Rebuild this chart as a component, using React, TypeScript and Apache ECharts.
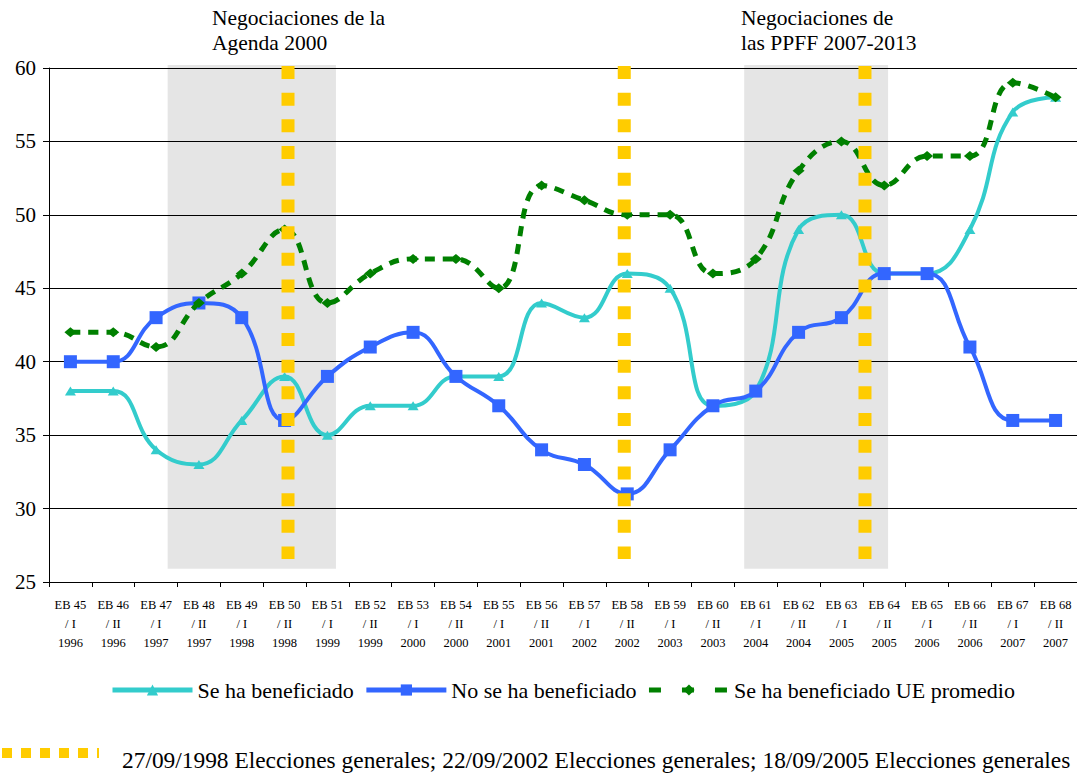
import React, { useEffect, useRef } from "react";
import * as echarts from "echarts";

const CATEGORIES = [
  "EB 45\n/ I\n1996", "EB 46\n/ II\n1996", "EB 47\n/ I\n1997", "EB 48\n/ II\n1997",
  "EB 49\n/ I\n1998", "EB 50\n/ II\n1998", "EB 51\n/ I\n1999", "EB 52\n/ II\n1999",
  "EB 53\n/ I\n2000", "EB 54\n/ II\n2000", "EB 55\n/ I\n2001", "EB 56\n/ II\n2001",
  "EB 57\n/ I\n2002", "EB 58\n/ II\n2002", "EB 59\n/ I\n2003", "EB 60\n/ II\n2003",
  "EB 61\n/ I\n2004", "EB 62\n/ II\n2004", "EB 63\n/ I\n2005", "EB 64\n/ II\n2005",
  "EB 65\n/ I\n2006", "EB 66\n/ II\n2006", "EB 67\n/ I\n2007", "EB 68\n/ II\n2007",
];

const SE_HA_BENEFICIADO = [38, 38, 34, 33, 36, 39, 35, 37, 37, 39, 39, 44, 43, 46, 45, 37, 38, 49, 50, 46, 46, 49, 57, 58];
const NO_SE_HA_BENEFICIADO = [40, 40, 43, 44, 43, 36, 39, 41, 42, 39, 37, 34, 33, 31, 34, 37, 38, 42, 43, 46, 46, 41, 36, 36];
const UE_PROMEDIO = [42, 42, 41, 44, 46, 49, 44, 46, 47, 47, 45, 52, 51, 50, 50, 46, 47, 53, 55, 52, 54, 54, 59, 58];

// Election dates, in category-axis units (0..24)
const ELECTIONS_X = [5.58, 13.43, 19.05];
const ELECTION_Y = [60.14, 26.57];
// Negotiation periods, in category-axis units
const NEGOTIATIONS = [
  [2.77, 6.7],
  [16.23, 19.59],
];
const NEGOTIATION_Y = [25.9, 60.2];
const NEGOTIATION_LABELS = ["Negociaciones de la\nAgenda 2000", "Negociaciones de\nlas PPFF 2007-2013"];

const Y_MIN = 25;
const Y_MAX = 60;
const Y_STEP = 5;

const SERIES_NAMES = ["Se ha beneficiado", "No se ha beneficiado", "Se ha beneficiado UE promedio"];
const ELECTIONS_TEXT = "27/09/1998 Elecciones generales; 22/09/2002 Elecciones generales; 18/09/2005 Elecciones generales";

const FONT = "Liberation Serif";

export default function App() {
  const ref = useRef<HTMLDivElement>(null);

  useEffect(() => {
    if (!ref.current) return;
    const chart = echarts.init(ref.current, undefined, { renderer: "svg" });

    const yellowSeries = ELECTIONS_X.map((x) => ({
      type: "line",
      xAxisIndex: 1,
      yAxisIndex: 0,
      data: [
        [x, ELECTION_Y[0]],
        [x, ELECTION_Y[1]],
      ],
      symbol: "none",
      clip: false,
      silent: true,
      z: 10,
      lineStyle: { color: "#FFCC00", width: 13, type: [13, 13.7], cap: "butt" },
    }));

    chart.setOption({
      animation: false,
      backgroundColor: "#fff",
      textStyle: { fontFamily: FONT, color: "#000" },
      grid: { left: 49, right: 0, top: 68, bottom: 192, containLabel: false },
      legend: {
        data: [
          { name: SERIES_NAMES[0] },
          { name: SERIES_NAMES[1] },
          { name: SERIES_NAMES[2], lineStyle: { type: [12, 21], width: 5 } },
        ],
        left: 110,
        top: 679,
        padding: 0,
        itemWidth: 80,
        itemHeight: 14,
        itemGap: 10,
        lineStyle: { width: 5 },
        textStyle: { fontSize: 22, fontFamily: FONT, color: "#000" },
      },
      xAxis: [
        {
          type: "category",
          data: CATEGORIES,
          boundaryGap: true,
          axisLine: { show: true, lineStyle: { color: "#000", width: 1 } },
          axisTick: { show: true, length: 5, lineStyle: { color: "#000" } },
          axisLabel: {
            fontSize: 12.5,
            lineHeight: 19,
            margin: 13,
            color: "#000",
            fontFamily: FONT,
            interval: 0,
            align: "center",
          },
          splitLine: { show: false },
        },
        {
          type: "value",
          min: 0,
          max: 24,
          show: false,
          splitLine: { show: false },
        },
      ],
      yAxis: {
        type: "value",
        min: Y_MIN,
        max: Y_MAX,
        interval: Y_STEP,
        axisLine: { show: true, lineStyle: { color: "#000", width: 1 } },
        axisTick: { show: true, length: 6, lineStyle: { color: "#000" } },
        axisLabel: { fontSize: 21, color: "#000", fontFamily: FONT, margin: 13 },
        splitLine: { show: true, lineStyle: { color: "#000", width: 1 } },
      },
      graphic: [
        {
          type: "text",
          left: 212,
          top: 5,
          style: { text: NEGOTIATION_LABELS[0], font: `21.5px ${FONT}`, fill: "#000", lineHeight: 25 },
        },
        {
          type: "text",
          left: 741,
          top: 5,
          style: { text: NEGOTIATION_LABELS[1], font: `21.5px ${FONT}`, fill: "#000", lineHeight: 25 },
        },
        {
          type: "line",
          shape: { x1: 2, y1: 753, x2: 99, y2: 753 },
          style: { stroke: "#FFCC00", lineWidth: 10, lineDash: [10, 9], lineCap: "butt" },
        },
        {
          type: "text",
          left: 122,
          top: 748,
          style: { text: ELECTIONS_TEXT, font: `23.4px ${FONT}`, fill: "#000" },
        },
      ],
      series: [
        {
          type: "custom",
          xAxisIndex: 1,
          yAxisIndex: 0,
          silent: true,
          z: 1,
          clip: false,
          data: NEGOTIATIONS.map((r) => [r[0], r[1], NEGOTIATION_Y[0], NEGOTIATION_Y[1]]),
          encode: { x: [0, 1], y: [2, 3] },
          renderItem: (params: any, api: any) => {
            const p0 = api.coord([api.value(0), api.value(3)]);
            const p1 = api.coord([api.value(1), api.value(2)]);
            return {
              type: "rect",
              shape: { x: p0[0], y: p0[1], width: p1[0] - p0[0], height: p1[1] - p0[1] },
              style: { fill: "rgba(0,0,0,0.1)" },
            };
          },
        },
        {
          name: SERIES_NAMES[0],
          type: "line",
          data: SE_HA_BENEFICIADO,
          smooth: 0.45,
          z: 3,
          symbol: "triangle",
          symbolSize: [11, 9],
          itemStyle: { color: "#33CCCC" },
          lineStyle: { color: "#33CCCC", width: 4 },
        },
        {
          name: SERIES_NAMES[1],
          type: "line",
          data: NO_SE_HA_BENEFICIADO,
          smooth: 0.45,
          z: 4,
          symbol: "rect",
          symbolSize: 13,
          itemStyle: { color: "#3366FF" },
          lineStyle: { color: "#3366FF", width: 4 },
        },
        {
          name: SERIES_NAMES[2],
          type: "line",
          data: UE_PROMEDIO,
          smooth: 0.45,
          z: 5,
          symbol: "diamond",
          symbolSize: [12, 10],
          itemStyle: { color: "#008000" },
          lineStyle: { color: "#008000", width: 5, type: [10, 8] },
        },
        ...yellowSeries,
      ],
    });

    return () => chart.dispose();
  }, []);

  return (
    <div
      ref={ref}
      style={{ position: "fixed", left: 0, top: 0, width: 1077, height: 774, background: "#fff" }}
    />
  );
}
